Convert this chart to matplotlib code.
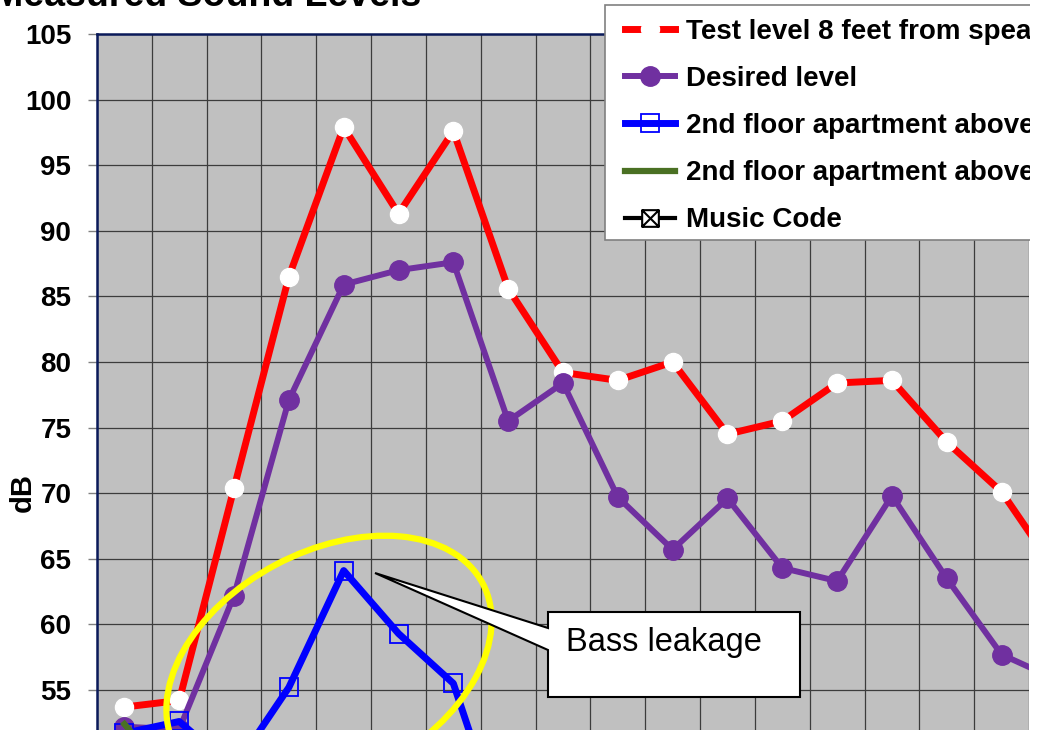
import numpy as np
import matplotlib
matplotlib.use('Agg')
import matplotlib.pyplot as plt
from matplotlib.patches import Ellipse, Polygon, Rectangle
from matplotlib.path import Path

plt.rcParams['font.family'] = ['Liberation Sans', 'DejaVu Sans']

test_level = [53.7, 54.2, 70.4, 86.5, 97.9, 91.3, 97.6, 85.6, 79.2, 78.6,
              80.0, 74.5, 75.5, 78.4, 78.6, 73.9, 70.1, 64.0]
desired = [52.2, 52.0, 62.2, 77.1, 85.9, 87.0, 87.6, 75.5, 78.4, 69.7,
           65.7, 69.6, 64.3, 63.3, 69.8, 63.5, 57.7, 55.8]
apt_above_1 = [51.7, 52.6, 49.0, 55.2, 64.1, 59.3, 55.5, 43.0]
apt_above_2 = [52.4, 47.5]
music_code = []

labels = ['Test level 8 feet from speaker', 'Desired level',
          '2nd floor apartment above', '2nd floor apartment above',
          'Music Code']

W, H = 1037, 730
fig = plt.figure(figsize=(W / 100, H / 100), dpi=100)
ax = fig.add_axes([97 / W, 0, (1029 - 97) / W, (H - 34) / H])
ax.set_facecolor('#c0c0c0')

x = np.arange(len(test_level))
ax.plot(x, test_level, color='#ff0000', lw=5,
        marker='o', ms=13, mfc='white', mec='white', label=labels[0], zorder=3)
ax.plot(x[:len(desired)], desired, color='#7030a0', lw=4.3,
        marker='o', ms=14, mfc='#7030a0', mec='#7030a0', label=labels[1], zorder=3)
ax.plot(x[:len(apt_above_1)], apt_above_1, color='#0000ff', lw=5,
        marker='s', ms=13, mfc='none', mec='#0000ff', mew=1.3, label=labels[2], zorder=3)
ax.plot(x[:len(apt_above_2)], apt_above_2, color='#4a7023', lw=4.5,
        label=labels[3], zorder=3)
# square with a cross, like the Excel marker
boxx = Path([(-1, -1), (1, -1), (1, 1), (-1, 1), (-1, -1),
             (-1, -1), (1, 1), (-1, 1), (1, -1)],
            [Path.MOVETO, Path.LINETO, Path.LINETO, Path.LINETO, Path.CLOSEPOLY,
             Path.MOVETO, Path.LINETO, Path.MOVETO, Path.LINETO])
ax.plot(x[:len(music_code)], music_code, color='black', lw=3,
        marker=boxx, ms=12, mfc='white', mec='black', mew=1.5, label=labels[4])

ax.set_xlim(-0.5, 16.5)
ax.set_ylim(51.95, 105)
ax.set_yticks(np.arange(55, 106, 5))
ax.set_xticks(np.arange(-0.5, 17, 1))
ax.set_xticklabels([])
ax.tick_params(axis='x', length=0)
ax.tick_params(axis='y', length=6.5, width=1, color='#808080', pad=12,
               labelsize=20)
for t in ax.get_yticklabels():
    t.set_fontweight('bold')
ax.grid(True, color='#3c3c3c', lw=0.9)
ax.set_axisbelow(True)
for s in ['right', 'bottom']:
    ax.spines[s].set_visible(False)
for s in ['left', 'top']:
    ax.spines[s].set_color('#0a1a5a')
    ax.spines[s].set_linewidth(1.8)

fig.text(23 / W, 1 - 493 / H, 'dB', rotation=90, ha='center', va='center',
         fontsize=21, fontweight='bold')

fig.text(421 / W, 1 - 6 / H, 'Measured Sound Levels', ha='right', va='baseline',
         fontsize=27, fontweight='bold')

# yellow ring around the bass region
fig.add_artist(Ellipse((3.29, 0.65), 3.48, 2.27, angle=28, fill=False,
                       ec='#ffff00', lw=4.5, transform=fig.dpi_scale_trans))

# callout box
pts = [(548, 612), (800, 612), (800, 697), (548, 697), (548, 650),
       (375, 573), (548, 628)]
fig.add_artist(Polygon([(px / 100, (H - py) / 100) for px, py in pts], closed=True,
                       fc='white', ec='black', lw=1.5, transform=fig.dpi_scale_trans))
fig.text(566 / W, 1 - 642 / H, 'Bass leakage', ha='left', va='center', fontsize=23.5)

# legend frame drawn separately so the padding can match
fig.add_artist(Rectangle((605 / 100, (H - 240) / 100), 5.0, 2.35, fc='white',
                         ec='#808080', lw=1.2, transform=fig.dpi_scale_trans, zorder=2))
leg = fig.legend(loc='upper left', bbox_to_anchor=(625 / W, 1 - 19 / H),
                 bbox_transform=fig.transFigure, borderaxespad=0, borderpad=0,
                 frameon=False, labelspacing=0.76,
                 handlelength=1.8, handletextpad=0.4,
                 prop={'weight': 'bold', 'size': 20})
leg.set_zorder(5)

# chart area ends a few pixels before the picture edge
fig.add_artist(Rectangle((1030 / W, 0), 1, 1, fc='white', ec='none',
                         transform=fig.transFigure, zorder=10))

fig.savefig('out.png', dpi=100)
